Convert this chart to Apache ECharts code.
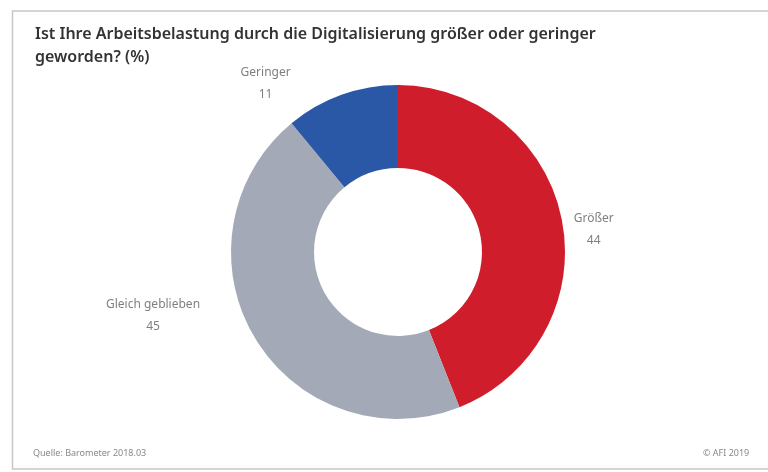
<!DOCTYPE html>
<html>
<head>
<meta charset="utf-8">
<script src="https://cdn.jsdelivr.net/npm/echarts@6/dist/echarts.min.js"></script>
<style>
html,body{margin:0;padding:0;background:#fff;}
#c{width:768px;height:472px;}
</style>
</head>
<body>
<div id="c"></div>
<script>
var categories = ['Größer', 'Gleich geblieben', 'Geringer'];
var values = [44, 45, 11];
var colors = ['#cf1d2b', '#a3a9b6', '#2a58a6'];
var titleLines = ['Ist Ihre Arbeitsbelastung durch die Digitalisierung größer oder geringer', 'geworden? (%)'];
var sourceText = 'Quelle: Barometer 2018.03';
var copyrightText = '© AFI 2019';
// label nudges (dx, dy) relative to the default outside placement
var labelNudges = [[-13, 13], [-32, -32], [-39, 8]];

var chart = echarts.init(document.getElementById('c'));
var data = categories.map(function (c, i) {
  return { name: c, value: values[i], itemStyle: { color: colors[i] } };
});
chart.setOption({
  animation: false,
  backgroundColor: '#fff',
  title: {
    text: titleLines.join('\n'),
    left: 30,
    top: 18,
    textStyle: { fontFamily: 'Noto Sans', fontSize: 16, fontWeight: 600, color: '#333', lineHeight: 23 }
  },
  graphic: [
    { type: 'rect', shape: { x: 12.5, y: 11, width: 800, height: 458 }, style: { fill: 'none', stroke: '#c8c8c8', lineWidth: 1.5 }, z: -1 },
    { type: 'text', left: 33, top: 449, style: { text: sourceText, fontFamily: 'Noto Sans', fontSize: 9, fill: '#888' } },
    { type: 'text', left: 703, top: 449, style: { text: copyrightText, fontFamily: 'Noto Sans', fontSize: 9, fill: '#888' } }
  ],
  series: [{
    type: 'pie',
    center: [398, 252],
    radius: [84, 167],
    startAngle: 90,
    clockwise: true,
    silent: true,
    data: data,
    label: {
      show: true,
      position: 'outside',
      formatter: '{b}\n{c}',
      fontFamily: 'Noto Sans',
      fontSize: 12,
      lineHeight: 22,
      color: '#7f7f7f',
      align: 'center'
    },
    labelLine: { show: false, length: 20, length2: 0 },
    labelLayout: function (p) {
      var n = labelNudges[p.dataIndex];
      return {
        x: p.labelRect.x + p.labelRect.width / 2 + n[0],
        y: p.labelRect.y + p.labelRect.height / 2 + n[1],
        align: 'center',
        verticalAlign: 'middle'
      };
    }
  }]
});
</script>
</body>
</html>
